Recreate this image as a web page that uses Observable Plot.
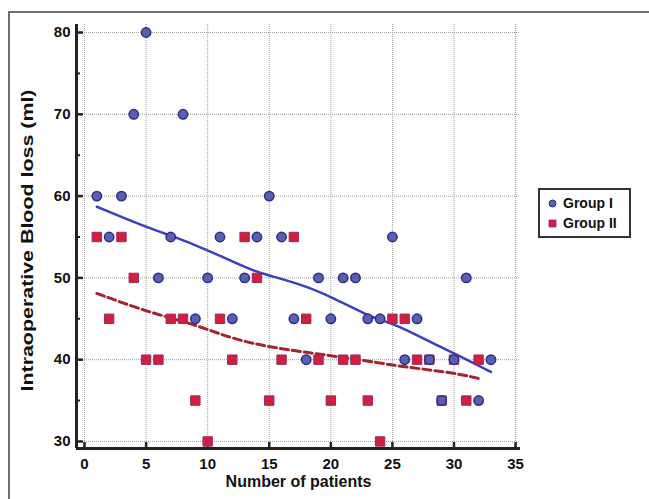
<!DOCTYPE html>
<html>
<head>
<meta charset="utf-8">
<script src="https://cdn.jsdelivr.net/npm/d3@7"></script>
<script src="https://cdn.jsdelivr.net/npm/@observablehq/plot@0.6"></script>
<style>
  body { margin: 0; background: #fff; font-family: "Liberation Sans", Arial, sans-serif; }
  #wrap { position: relative; width: 649px; height: 499px; overflow: hidden; background: #fff; }
  #border { position: absolute; left: 8px; top: 11px; width: 800px; height: 800px;
            border-top: 2px solid #6e6e6e; border-left: 2px solid #6e6e6e; pointer-events: none; }
  #chart { position: absolute; left: 0; top: 0; }
  #legend { position: absolute; left: 538px; top: 188px; width: 89px; height: 46px;
            border: 2px solid #333; background: #fff; font-weight: bold; font-size: 14px; color: #111; }
  .item { position: absolute; left: 8px; display: flex; align-items: center; height: 18px; }
  .item svg { margin-right: 6px; }
</style>
</head>
<body>
<div id="wrap">
  <div id="chart"></div>
  <div id="border"></div>
  <div id="legend"></div>
</div>
<script>
// ---- data ----
const groupNames = ["Group I", "Group II"];
const patientsI = [1,2,3,4,5,6,7,8,9,10,11,12,13,14,15,16,17,18,19,20,21,22,23,24,25,26,27,28,29,30,31,32,33];
const lossI     = [60,55,60,70,80,50,55,70,45,50,55,45,50,55,60,55,45,40,50,45,50,50,45,45,55,40,45,40,35,40,50,35,40];
const patientsII = [1,2,3,4,5,6,7,8,9,10,11,12,13,14,15,16,17,18,19,20,21,22,23,24,25,26,27,28,29,30,31,32];
const lossII     = [55,45,55,50,40,40,45,45,35,30,45,40,55,50,35,40,55,45,40,35,40,40,35,30,45,45,40,40,35,40,35,40];
// trend curves
const trendIx = [1,5,7,10,12,14,15,18,20,23,24,26,28,30,33];
const trendIy = [58.7,56.2,55.2,53.4,52.0,50.7,50.3,49.0,47.7,45.4,44.9,43.8,42.2,40.8,38.5];
const trendIIx = [1,5,8,10,12,15,20,24,26,30,32];
const trendIIy = [48.1,45.9,44.7,43.7,42.6,41.5,40.5,39.6,39.1,38.4,37.7];
// ticks
const xTicks = [0,5,10,15,20,25,30,35];
const yMajor = [30,40,50,60,70,80];
const yMinor = [35,45,55,65,75];
const xTitle = "Number of patients";
const yTitle = "Intraoperative Blood loss (ml)";

// ---- styling ----
const blueFill = "#5a5fb0", blueEdge = "#2c2f85", blueLine = "#3a3fc2";
const redFill = "#d21f3b", redEdge = "#94296b", redLine = "#a5232b";
const font = "'Liberation Sans', Arial, sans-serif";

const ptsI = patientsI.map((p, i) => ({p, v: lossI[i]}));
const ptsII = patientsII.map((p, i) => ({p, v: lossII[i]}));
const trI = trendIx.map((p, i) => ({p, v: trendIy[i]}));
const trII = trendIIx.map((p, i) => ({p, v: trendIIy[i]}));

const xDomain = [-0.65, 35.4];
const yDomain = [29.14, 80.98];

const chart = Plot.plot({
  width: 649, height: 499,
  marginLeft: 76, marginRight: 129, marginTop: 24, marginBottom: 51,
  x: {domain: xDomain},
  y: {domain: yDomain},
  style: {fontFamily: font, fontSize: "15px", fontWeight: "bold", color: "#111", background: "transparent"},
  marks: [
    Plot.gridX(xTicks, {stroke: "#a0a0a0", strokeOpacity: 1, strokeDasharray: "1,1"}),
    Plot.gridY(yMajor, {stroke: "#a0a0a0", strokeOpacity: 1, strokeDasharray: "1,1"}),
    Plot.axisX(xTicks, {anchor: "bottom", tickSize: -6, tickPadding: 16, strokeWidth: 2.5, stroke: "#222", label: null, fontSize: 15}),
    Plot.axisY(yMajor, {anchor: "left", tickSize: -7, tickPadding: 13, strokeWidth: 2.5, stroke: "#222", label: null, fontSize: 15}),
    Plot.axisY(yMinor, {anchor: "left", tickSize: -4, tickFormat: () => "", strokeWidth: 2, stroke: "#222", label: null}),
    Plot.ruleX([xDomain[0]], {stroke: "#222", strokeWidth: 3}),
    Plot.ruleY([yDomain[0]], {stroke: "#222", strokeWidth: 3}),
    Plot.line(trII, {x: "p", y: "v", stroke: redLine, strokeWidth: 3, strokeDasharray: "8,4", curve: "basis"}),
    Plot.line(trI, {x: "p", y: "v", stroke: blueLine, strokeWidth: 2.5, curve: "basis"}),
    Plot.dot(ptsII, {x: "p", y: "v", symbol: "square", r: 5.3, fill: redFill, stroke: redEdge, strokeWidth: 1}),
    Plot.dot(ptsI, {x: "p", y: "v", symbol: "circle", r: 4.7, fill: blueFill, stroke: blueEdge, strokeWidth: 1.5}),
    Plot.text([xTitle], {text: d => d, frameAnchor: "bottom", dy: 38, fontSize: 16, fontWeight: "bold", fill: "#111"}),
    Plot.text([yTitle], {text: d => d, frameAnchor: "left", textAnchor: "middle", rotate: -90, dx: -49, dy: 4, fontSize: 16, fontWeight: "bold", fill: "#111"})
  ]
});
document.getElementById("chart").appendChild(chart);
// the reference's vertical title is drawn elongated along its length
d3.select(chart).selectAll("text").filter(function() { return this.textContent === yTitle; })
  .attr("textLength", 302).attr("lengthAdjust", "spacingAndGlyphs");

// legend
const legend = document.getElementById("legend");
groupNames.forEach((name, i) => {
  const row = document.createElement("div");
  row.className = "item";
  row.style.top = (i === 0 ? 4 : 24) + "px";
  const ns = "http://www.w3.org/2000/svg";
  const s = document.createElementNS(ns, "svg");
  s.setAttribute("width", 9); s.setAttribute("height", 9);
  if (i === 0) {
    const c = document.createElementNS(ns, "circle");
    c.setAttribute("cx", 4.5); c.setAttribute("cy", 4.5); c.setAttribute("r", 3.5);
    c.setAttribute("fill", blueFill); c.setAttribute("stroke", blueEdge); c.setAttribute("stroke-width", 1);
    s.appendChild(c);
  } else {
    const r = document.createElementNS(ns, "rect");
    r.setAttribute("x", 1); r.setAttribute("y", 1); r.setAttribute("width", 7); r.setAttribute("height", 7);
    r.setAttribute("fill", redFill); r.setAttribute("stroke", redEdge); r.setAttribute("stroke-width", 0.8);
    s.appendChild(r);
  }
  row.appendChild(s);
  const t = document.createElement("span");
  t.textContent = name;
  row.appendChild(t);
  legend.appendChild(row);
});
</script>
</body>
</html>
